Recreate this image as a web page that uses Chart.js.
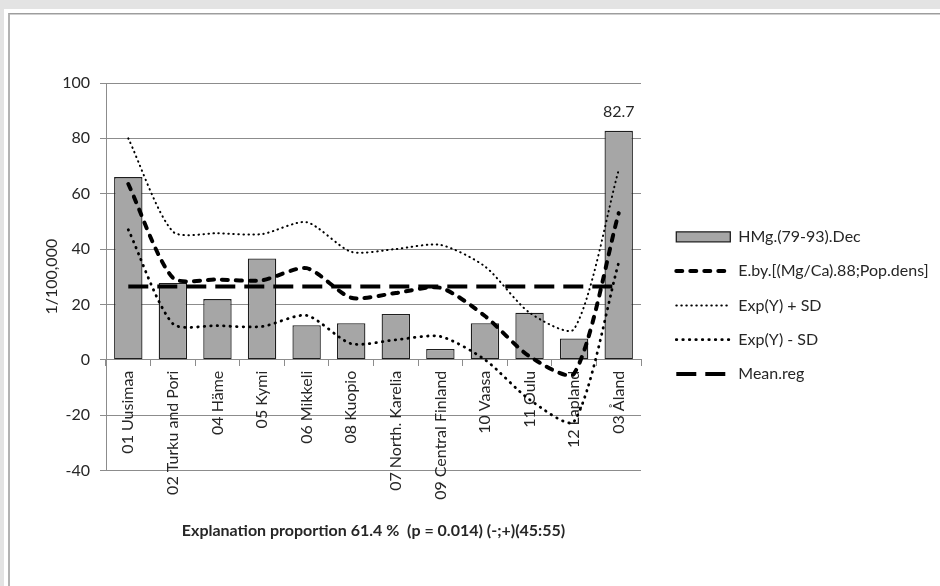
<!DOCTYPE html>
<html>
<head>
<meta charset="utf-8">
<script src="https://cdn.jsdelivr.net/npm/chart.js@4.4.1/dist/chart.umd.min.js"></script>
<style>
  html, body { margin: 0; padding: 0; }
  body { width: 940px; height: 586px; overflow: hidden; background: #e3e3e3; position: relative; }
  #sheet { position: absolute; left: 4px; top: 9px; right: 0; bottom: 0; background: #fff; }
  #frame { position: absolute; left: 8px; top: 13px; right: -6px; bottom: -6px;
           border-left: 2px solid #b3b3b3; border-top: 1px solid #9d9d9d;
           box-shadow: inset 0 1px 0 #cfcfcf; }
  #c { position: absolute; left: 0; top: 0; }
</style>
</head>
<body>
<div id="sheet"></div>
<div id="frame"></div>
<canvas id="c" width="940" height="586"></canvas>
<script>
// Regions (x axis categories)
const regions = [
  '01 Uusimaa', '02 Turku and Pori', '04 Häme', '05 Kymi', '06 Mikkeli', '08 Kuopio',
  '07 North. Karelia', '09 Central Finland', '10 Vaasa', '11 Oulu', '12 Lapland', '03 Åland'
];

// Observed rate per 100,000
const hmgDec = [66.0, 27.7, 21.9, 36.6, 12.5, 13.2, 16.5, 3.9, 13.2, 17.0, 7.7, 82.7];
// Explained by [(Mg/Ca).88; Pop.dens]
const explained = [63.5, 29.6, 29.0, 28.7, 33.1, 22.4, 24.1, 26.0, 15.8, 1.2, -5.0, 53.0];
// Expected value plus / minus one SD
const expPlusSd = [80.0, 46.3, 45.7, 45.4, 49.7, 39.0, 40.0, 41.5, 33.7, 17.0, 11.1, 68.6];
const expMinusSd = [47.0, 13.0, 12.3, 12.0, 16.0, 5.8, 7.2, 8.4, 0.0, -14.4, -22.3, 35.1];
// Regional mean
const meanReg = [26.5, 26.5, 26.5, 26.5, 26.5, 26.5, 26.5, 26.5, 26.5, 26.5, 26.5, 26.5];

// Series names
const seriesNames = [
  'HMg.(79-93).Dec',
  'E.by.[(Mg/Ca).88;Pop.dens]',
  'Exp(Y) + SD',
  'Exp(Y) - SD',
  'Mean.reg'
];

// Value axis
const yMin = -40, yMax = 100, yStep = 20;
const yTitle = '1/100,000';
const xTitle = 'Explanation proportion 61.4 %  (p = 0.014) (-;+)(45:55)';
// Bars whose value is printed above them
const labeledBars = [11];

const FONT = 'Lato, "Liberation Sans", sans-serif';
const FS = 16;
const TEXT = '#262626';
const GRID = '#8c8c8c';
const LEGEND_BOX_W = 282;
const TENSION = 0.25;

const valueLabels = {
  id: 'valueLabels',
  afterDatasetsDraw(chart) {
    const ctx = chart.ctx;
    const meta = chart.getDatasetMeta(0);
    ctx.save();
    ctx.font = `${FS}px ${FONT}`;
    ctx.fillStyle = TEXT;
    ctx.textAlign = 'center';
    ctx.textBaseline = 'middle';
    labeledBars.forEach(i => {
      const el = meta.data[i];
      ctx.fillText(hmgDec[i].toFixed(1), el.x, el.y - 19);
    });
    ctx.restore();
  }
};

// Give the legend a fixed width so long labels are not clipped
const wideLegend = {
  id: 'wideLegend',
  beforeLayout(chart) {
    const lg = chart.legend;
    if (lg && !lg.$fixedWidth) {
      const baseFit = lg.fit.bind(lg);
      lg.fit = () => { baseFit(); lg.width = LEGEND_BOX_W; };
      lg.$fixedWidth = true;
    }
  }
};

// Legend entries use the series' own dash pattern and stroke
function legendLabels(chart) {
  const items = Chart.defaults.plugins.legend.labels.generateLabels(chart);
  items.forEach(it => {
    const ds = chart.data.datasets[it.datasetIndex];
    if (ds.type === 'line') {
      it.lineDash = ds.borderDash || [];
      it.lineCap = ds.borderCapStyle || 'butt';
      it.lineWidth = ds.borderWidth;
    }
  });
  return items.sort((a, b) => a.datasetIndex - b.datasetIndex);
}

new Chart(document.getElementById('c'), {
  data: {
    labels: regions,
    datasets: [
      {
        type: 'bar', label: seriesNames[0], data: hmgDec, order: 1,
        xAxisID: 'x', yAxisID: 'y',
        backgroundColor: '#a6a6a6', borderColor: '#1e1e1e', borderWidth: 1.3,
        borderSkipped: false, categoryPercentage: 1, barPercentage: 0.637,
        pointStyle: 'rect'
      },
      {
        type: 'line', label: seriesNames[1], data: explained, order: 0,
        xAxisID: 'x', yAxisID: 'y',
        borderColor: '#000', backgroundColor: '#000', borderWidth: 4,
        borderDash: [6, 8], borderCapStyle: 'round', tension: TENSION,
        pointRadius: 0, pointStyle: 'line', fill: false
      },
      {
        type: 'line', label: seriesNames[2], data: expPlusSd, order: 0,
        xAxisID: 'x', yAxisID: 'y',
        borderColor: '#000', backgroundColor: '#000', borderWidth: 2,
        borderDash: [0.5, 4.5], borderCapStyle: 'round', tension: TENSION,
        pointRadius: 0, pointStyle: 'line', fill: false
      },
      {
        type: 'line', label: seriesNames[3], data: expMinusSd, order: 0,
        xAxisID: 'x', yAxisID: 'y',
        borderColor: '#000', backgroundColor: '#000', borderWidth: 2.8,
        borderDash: [0.5, 6], borderCapStyle: 'round', tension: TENSION,
        pointRadius: 0, pointStyle: 'line', fill: false
      },
      {
        type: 'line', label: seriesNames[4], data: meanReg, order: 0,
        xAxisID: 'x', yAxisID: 'y',
        borderColor: '#000', backgroundColor: '#000', borderWidth: 4,
        borderDash: [20, 9], tension: 0,
        pointRadius: 0, pointStyle: 'line', fill: false
      }
    ]
  },
  options: {
    responsive: false,
    animation: false,
    devicePixelRatio: 1,
    layout: { padding: { left: 10, top: 83, right: 0, bottom: 45.7 } },
    plugins: {
      title: { display: false },
      tooltip: { enabled: false },
      legend: {
        position: 'right',
        align: 'start',
        title: { display: true, text: '', font: { size: 10 }, padding: { top: 0, bottom: 115.5 } },
        labels: {
          usePointStyle: true,
          pointStyleWidth: 54,
          boxHeight: 10,
          padding: 18.3,
          color: TEXT,
          font: { family: FONT, size: FS },
          generateLabels: legendLabels
        }
      }
    },
    scales: {
      x: {
        type: 'category',
        position: { y: 0 },
        offset: true,
        grid: { display: true, drawOnChartArea: false, drawTicks: true, tickLength: 6, color: GRID, offset: true },
        border: { display: true, color: GRID, width: 1 },
        ticks: {
          autoSkip: false, minRotation: 90, maxRotation: 90, padding: 5,
          color: TEXT, font: { family: FONT, size: FS }
        }
      },
      xt: {
        type: 'category',
        position: 'bottom',
        grid: { display: false, drawTicks: false },
        border: { display: false },
        ticks: { display: false },
        title: {
          display: true, text: xTitle, color: TEXT,
          font: { family: FONT, size: FS, weight: 'bold' },
          padding: { top: 50.7, bottom: 0 }
        }
      },
      y: {
        type: 'linear',
        position: 'left',
        min: yMin, max: yMax,
        afterFit: (s) => { s.width = 96; },
        ticks: { stepSize: yStep, padding: 10, color: TEXT, font: { family: FONT, size: FS } },
        grid: { color: GRID, lineWidth: 1, tickLength: 6, drawTicks: true },
        border: { display: true, color: GRID, width: 1 },
        title: {
          display: true, text: yTitle, color: TEXT,
          font: { family: FONT, size: FS },
          padding: { top: 32, bottom: 0 }
        }
      },
      gap: {
        type: 'linear',
        position: 'right',
        afterFit: (s) => { s.width = 17; },
        grid: { display: false, drawTicks: false },
        border: { display: false },
        ticks: { display: false }
      }
    }
  },
  plugins: [valueLabels, wideLegend]
});
</script>
</body>
</html>
